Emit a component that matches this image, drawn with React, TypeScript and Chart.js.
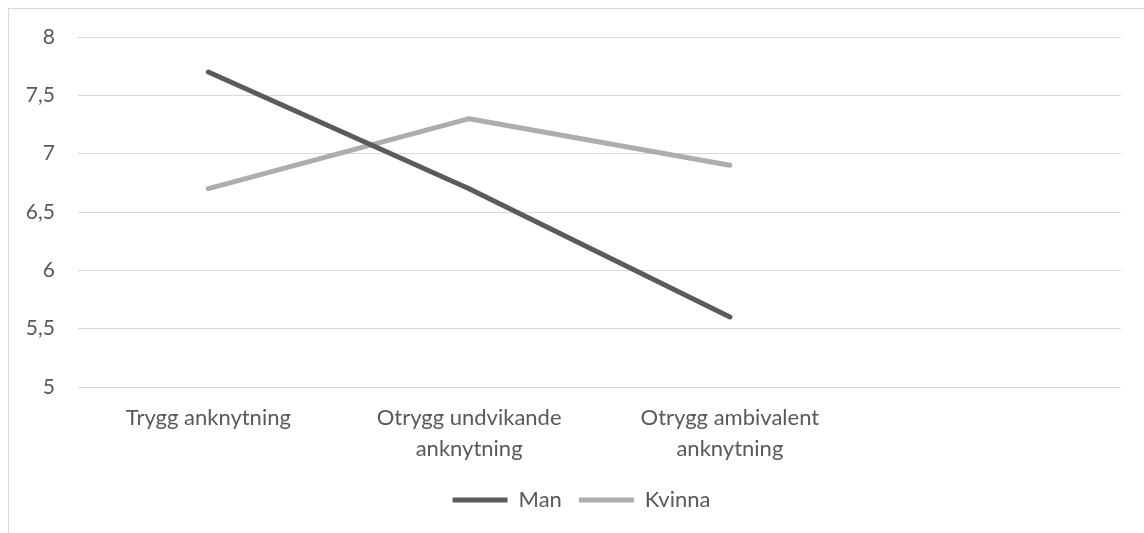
import React, { useEffect, useRef } from "react";
import { Chart, registerables } from "chart.js";

Chart.register(...registerables);

const categories: (string | string[])[] = [
  "Trygg anknytning",
  ["Otrygg undvikande", "anknytning"],
  ["Otrygg ambivalent", "anknytning"],
  "",
];
const manValues: (number | null)[] = [7.7, 6.7, 5.6, null];
const kvinnaValues: (number | null)[] = [6.7, 7.3, 6.9, null];
const yMin = 5;
const yMax = 8;
const yStep = 0.5;

const TEXT = "#595959";
const FONT = "Lato, 'Open Sans', sans-serif";

export default function App() {
  const ref = useRef<HTMLCanvasElement | null>(null);
  useEffect(() => {
    if (!ref.current) return;
    const chart = new Chart(ref.current, {
      type: "line",
      data: {
        labels: categories,
        datasets: [
          {
            label: "Man",
            data: manValues,
            borderColor: "#5b5b5b",
            backgroundColor: "#5b5b5b",
            borderWidth: 5,
            borderCapStyle: "round",
            borderJoinStyle: "round",
            pointRadius: 0,
            pointHoverRadius: 0,
            tension: 0,
          },
          {
            label: "Kvinna",
            data: kvinnaValues,
            borderColor: "#adadad",
            backgroundColor: "#adadad",
            borderWidth: 5,
            borderCapStyle: "round",
            borderJoinStyle: "round",
            pointRadius: 0,
            pointHoverRadius: 0,
            tension: 0,
          },
        ],
      },
      options: {
        animation: false,
        responsive: false,
        devicePixelRatio: 1,
        layout: { padding: { left: 10, right: 0, top: 28, bottom: 12 } },
        scales: {
          x: {
            offset: true,
            grid: { display: false, drawTicks: false },
            border: { display: false },
            ticks: {
              color: TEXT,
              font: { family: FONT, size: 22, lineHeight: "31px" },
              padding: 15,
              maxRotation: 0,
              autoSkip: false,
            },
            afterFit: (s: any) => {
              s.height = 85;
            },
          },
          y: {
            min: yMin,
            max: yMax,
            grid: {
              color: "#d9d9d9",
              lineWidth: 1,
              drawTicks: true,
              tickLength: 23,
              tickColor: "rgba(0,0,0,0)",
            },
            border: { display: false },
            ticks: {
              stepSize: yStep,
              color: TEXT,
              font: { family: FONT, size: 21 },
              padding: 0,
              callback: (v: any) => String(v).replace(".", ","),
            },
            afterFit: (s: any) => {
              s.width = 59;
            },
          },
          yRight: {
            position: "right",
            min: yMin,
            max: yMax,
            grid: { display: false, drawTicks: false },
            border: { display: false },
            ticks: { display: false, padding: 0 },
            afterFit: (s: any) => {
              s.width = 23;
            },
          },
        },
        plugins: {
          legend: {
            position: "bottom",
            labels: {
              usePointStyle: true,
              pointStyle: "line",
              pointStyleWidth: 55,
              boxHeight: 20,
              padding: 17,
              color: TEXT,
              font: { family: FONT, size: 22 },
            },
          },
          tooltip: { enabled: false },
        },
      },
    } as any);
    return () => chart.destroy();
  }, []);

  return (
    <div
      style={{
        position: "fixed",
        left: 8,
        top: 8,
        width: 1136,
        height: 525,
        borderTop: "1px solid #d9d9d9",
        borderLeft: "1px solid #d9d9d9",
        background: "#fff",
      }}
    >
      <canvas
        ref={ref}
        width={1135}
        height={524}
        style={{ display: "block", width: 1135, height: 524 }}
      />
    </div>
  );
}
